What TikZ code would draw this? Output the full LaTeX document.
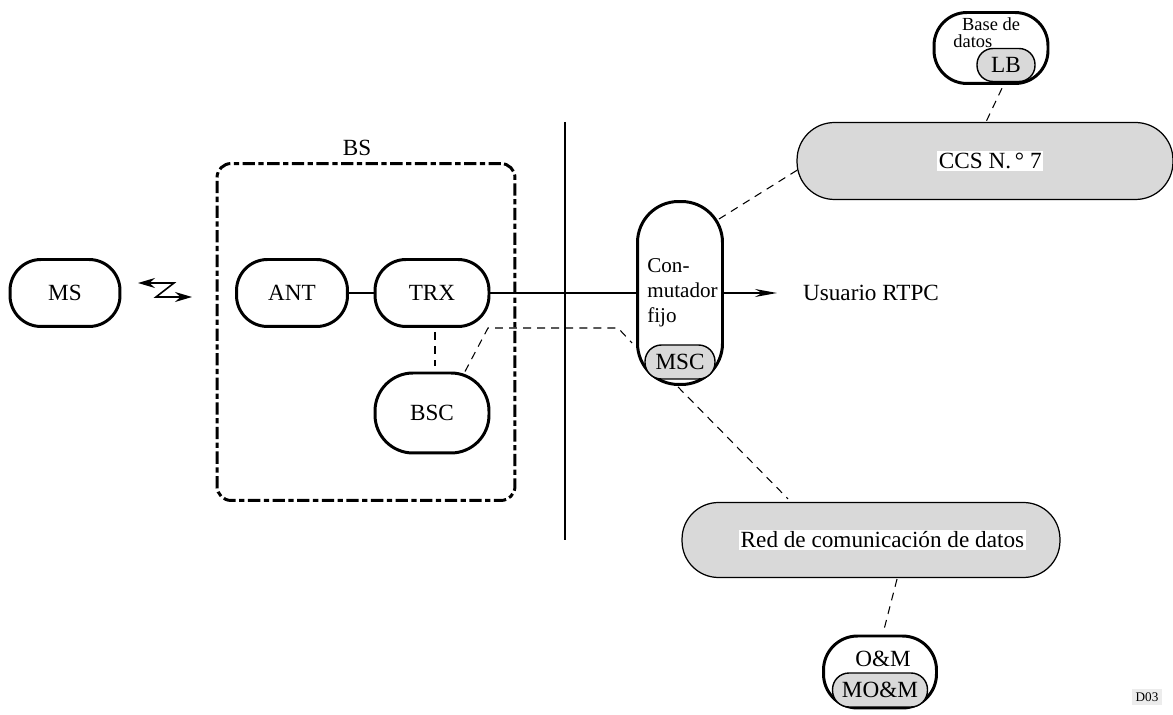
\documentclass[tikz,border=0pt]{standalone}
\usepackage{fontspec}
\setmainfont{Liberation Serif}
\usepackage{tikz}
\usetikzlibrary{arrows.meta,positioning,calc}
\usepackage{xcolor}
\definecolor{shade}{RGB}{217,217,217}
\definecolor{tagbg}{RGB}{236,236,236}
\tikzset{
  % ---- entities ---------------------------------------------------------
  unit/.style={
    draw=black, line width=1.7pt, fill=white,
    font=\fontsize{13.2}{15.5}\selectfont, align=center, inner sep=1pt},
  % grey part inside an entity (MSC, LB, MO&M)
  subunit/.style={unit, line width=0.8pt, fill=shade},
  % networks
  net/.style={
    draw=black, line width=0.7pt, fill=shade,
    font=\fontsize{13.2}{15.5}\selectfont, align=center, inner sep=1pt},
  % ---- containers -------------------------------------------------------
  group/.style={
    draw=black, line width=1.7pt, rounded corners=8pt,
    dash pattern=on 7pt off 2pt on 3pt off 2pt},
  % ---- lines ------------------------------------------------------------
  link/.style={draw=black, line width=0.9pt},
  ar/.style={-{Stealth[length=4.4mm,width=1.6mm]}, link},
  radio/.style={{Stealth[length=3.4mm,width=2mm]}-{Stealth[length=3.4mm,width=2mm]}, link},
  dsh/.style={draw=black, line width=0.6pt, dash pattern=on 4.5pt off 3.5pt},
  % ---- labels -----------------------------------------------------------
  lbl/.style={font=\fontsize{13.2}{15.5}\selectfont, inner sep=1pt},
  lbls/.style={font=\fontsize{10.5}{10}\selectfont, align=left, inner sep=0pt},
  tag/.style={font=\fontsize{7.5}{8}\selectfont, fill=tagbg, inner sep=2.2pt},
}
\newcommand{\onwhite}[1]{{\setlength{\fboxsep}{1pt}\colorbox{white}{#1}}}

\begin{document}
\begin{tikzpicture}[x=0.02cm,y=-0.02cm]
\useasboundingbox (0,0) rectangle (1173,715);

% ============================ mobile and base station ======================
\node[unit, minimum width=2.2cm, minimum height=1.34cm, rounded corners=0.62cm] (ms) at (65,293) {MS};
\draw[radio] (138,283) -- (174,283) -- (156,297) -- (192,297);

\node[group, minimum width=5.96cm, minimum height=6.74cm] (bs) at (366,332) {};
\node[lbl] (bslbl) at (357,148) {BS};

\node[unit, minimum width=2.22cm, minimum height=1.34cm, rounded corners=0.62cm] (ant) at (292,293) {ANT};
\node[unit, minimum width=2.28cm, minimum height=1.34cm, rounded corners=0.62cm] (trx) at (432,293) {TRX};
\node[unit, minimum width=2.28cm, minimum height=1.6cm, rounded corners=0.76cm] (bsc) at (432,413) {BSC};

% separator
\draw[link] (565,122) -- (565,540);

% ============================ switching side ===============================
\node[unit, minimum width=1.7cm, minimum height=3.66cm, rounded corners=0.82cm] (conm) at (680,293) {};
\node[subunit, minimum width=1.4cm, minimum height=0.68cm, rounded corners=0.33cm] (msc) at (680,362) {MSC};
\node[lbls, font=\fontsize{12}{14.2}\selectfont, anchor=north west] (conmtxt) at (647,258) {Con-\\mutador\\fijo};
\node[lbl, anchor=west] (usr) at (801,293) {Usuario RTPC};

\node[net, minimum width=7.52cm, minimum height=1.54cm, rounded corners=0.75cm] (ccs) at (985,161)
  {\hspace*{6pt}\onwhite{CCS N.\,° 7}};
\node[net, minimum width=7.56cm, minimum height=1.5cm, rounded corners=0.73cm] (red) at (871,540)
  {\hspace*{13pt}\onwhite{Red de comunicación de datos}};

\node[unit, minimum width=2.28cm, minimum height=1.42cm, rounded corners=0.66cm] (bd) at (991,48) {};
\node[subunit, minimum width=1.16cm, minimum height=0.66cm, rounded corners=0.32cm] (lb) at (1006,65) {LB};
\node[lbls, anchor=north west] (bdtxt) at (953,17) {\hspace*{5pt}Base de\\datos};

\node[unit, minimum width=2.26cm, minimum height=1.44cm, rounded corners=0.68cm] (om) at (880,672) {};
\node[subunit, minimum width=1.9cm, minimum height=0.68cm, rounded corners=0.33cm] (mom) at (880,690) {MO\&M};
\node[lbl] (omtxt) at (883,659) {O\&M};

\node[tag] (code) at (1147,697) {D03};

% ============================ connections ==================================
\draw[link] (ant) -- (trx);
\draw[link] (trx) -- (conm);
\draw[ar, shorten >=0.48cm] (conm) -- (usr.west);

\coordinate (k1) at (488,328);
\coordinate (k2) at (618,328);
\draw[dsh] ($(trx.south)+(3,4)$) -- ($(bsc.north)+(3,-6)$);
\draw[dsh] ($(bsc.north)+(33,0)$) -- (k1) -- (k2) -- ($(conm.west)+(-4,50)$);
\draw[dsh] ($(conm.north east)+(-5,19)$) -- ($(ccs.west)+(1,9)$);
\draw[dsh] ($(lb.south)+(-4,6)$) -- ($(ccs.north)+(1,0)$);
\draw[dsh] ($(conm.south)+(-2,1)$) -- ($(red.north)+(-83,-3)$);
\draw[dsh] ($(red.south)+(26,1)$) -- ($(om.north)+(4,-5)$);

\end{tikzpicture}
\end{document}
